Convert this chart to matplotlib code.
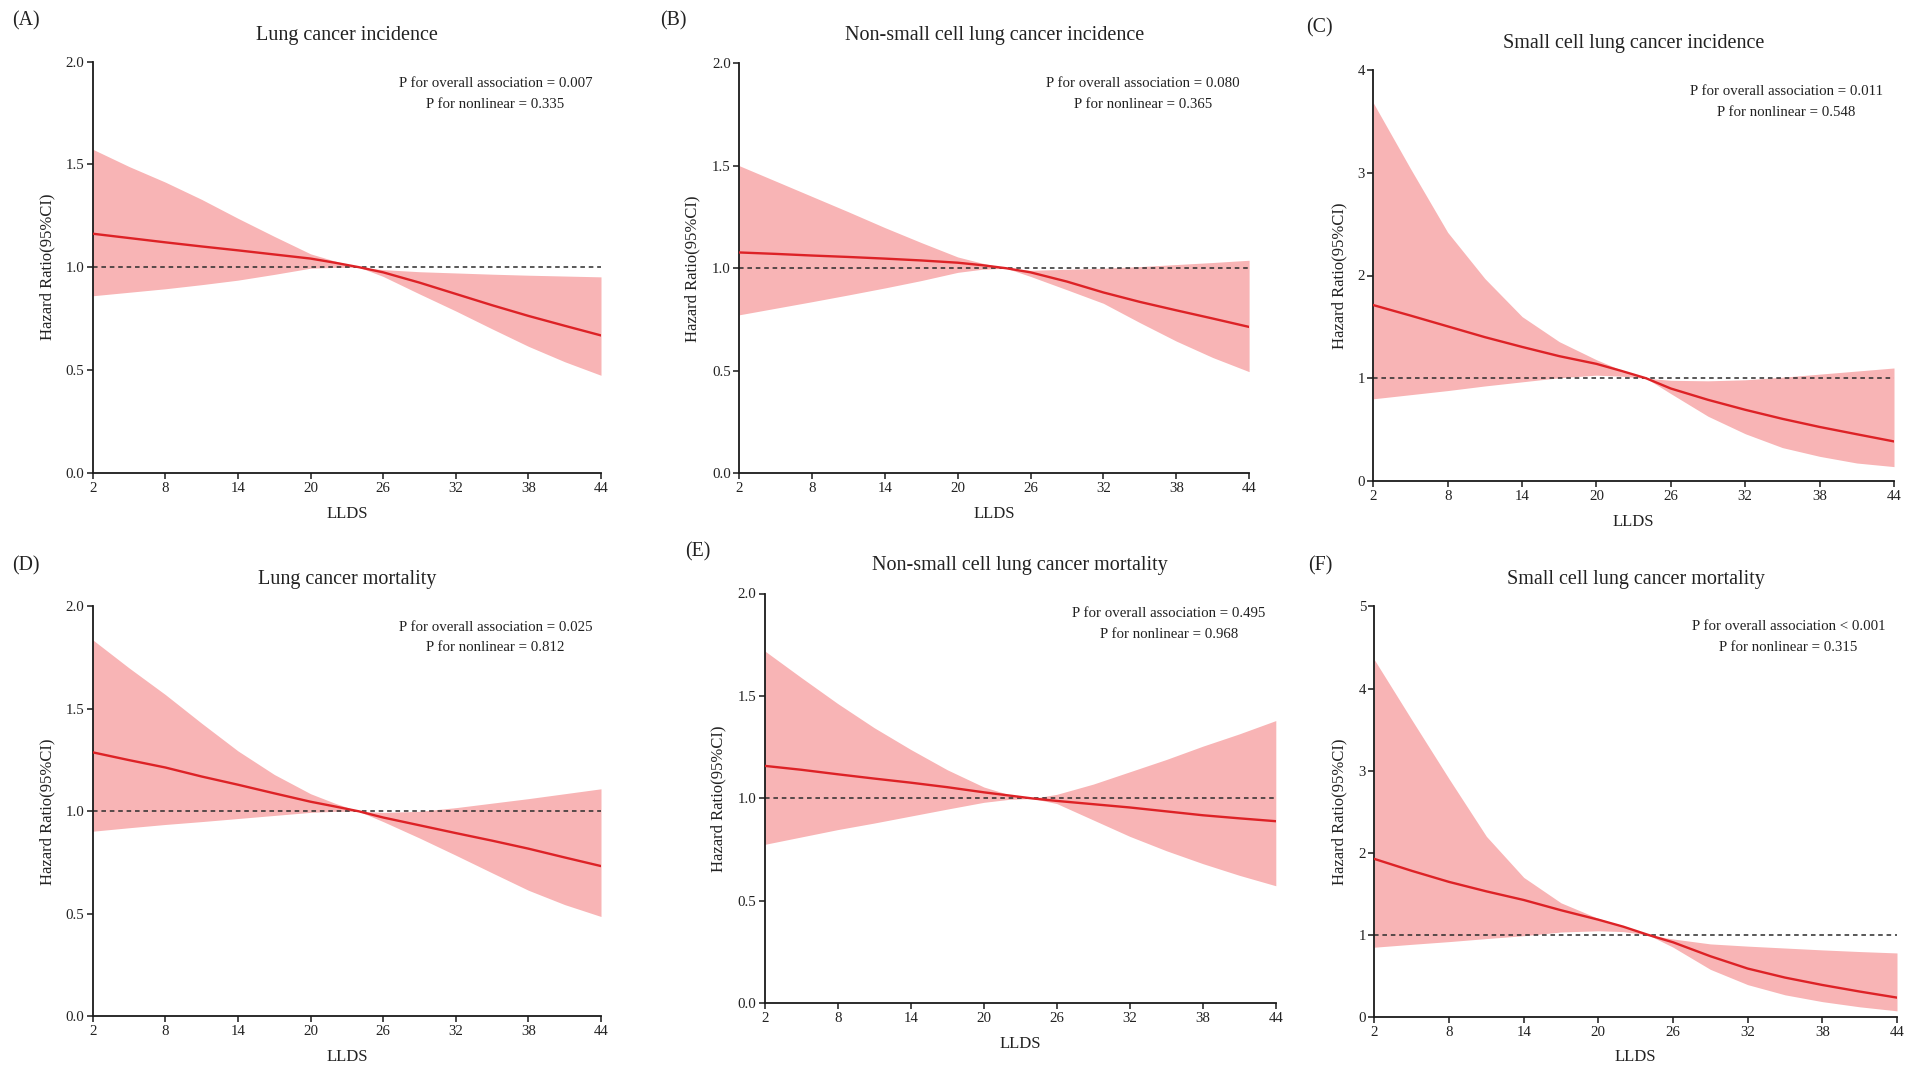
import matplotlib
matplotlib.use("Agg")
import matplotlib.pyplot as plt

plt.rcParams['font.family'] = ['Liberation Serif', 'DejaVu Serif']

# ---------------- data ----------------
lldS = [2, 5, 8, 11, 14, 17, 20, 22, 24, 26, 29, 32, 35, 38, 41, 44]
x_ticks = [2, 8, 14, 20, 26, 32, 38, 44]

panel_labels = ["(A)", "(B)", "(C)", "(D)", "(E)", "(F)"]
titles = ["Lung cancer incidence",
          "Non-small cell lung cancer incidence",
          "Small cell lung cancer incidence",
          "Lung cancer mortality",
          "Non-small cell lung cancer mortality",
          "Small cell lung cancer mortality"]
p_overall = ["P for overall association = 0.007",
             "P for overall association = 0.080",
             "P for overall association = 0.011",
             "P for overall association = 0.025",
             "P for overall association = 0.495",
             "P for overall association < 0.001"]
p_nonlin = ["P for nonlinear = 0.335",
            "P for nonlinear = 0.365",
            "P for nonlinear = 0.548",
            "P for nonlinear = 0.812",
            "P for nonlinear = 0.968",
            "P for nonlinear = 0.315"]

y_ticks_A = [0.0, 0.5, 1.0, 1.5, 2.0]
y_ticks_C = [0, 1, 2, 3, 4]
y_ticks_F = [0, 1, 2, 3, 4, 5]

hr_A = [1.163, 1.142, 1.121, 1.101, 1.082, 1.062, 1.042, 1.022, 1.000, 0.975, 0.925, 0.870, 0.815, 0.763, 0.715, 0.668]
hi_A = [1.574, 1.490, 1.414, 1.330, 1.238, 1.150, 1.065, 1.030, 1.000, 0.988, 0.978, 0.972, 0.966, 0.961, 0.957, 0.953]
lo_A = [0.861, 0.878, 0.895, 0.915, 0.937, 0.965, 0.995, 0.999, 1.000, 0.955, 0.870, 0.787, 0.700, 0.615, 0.540, 0.474]

hr_B = [1.077, 1.070, 1.062, 1.055, 1.047, 1.038, 1.027, 1.015, 1.000, 0.980, 0.935, 0.882, 0.836, 0.795, 0.755, 0.714]
hi_B = [1.500, 1.425, 1.350, 1.275, 1.198, 1.125, 1.055, 1.025, 1.000, 0.990, 0.995, 1.000, 1.008, 1.018, 1.028, 1.039]
lo_B = [0.773, 0.805, 0.837, 0.870, 0.904, 0.940, 0.980, 0.995, 1.000, 0.960, 0.895, 0.829, 0.735, 0.645, 0.565, 0.496]

hr_C = [1.712, 1.610, 1.505, 1.400, 1.305, 1.215, 1.140, 1.072, 1.000, 0.900, 0.790, 0.693, 0.605, 0.526, 0.455, 0.385]
hi_C = [3.68, 3.04, 2.42, 1.97, 1.60, 1.356, 1.18, 1.08, 1.00, 0.98, 0.975, 0.985, 1.01, 1.04, 1.07, 1.10]
lo_C = [0.80, 0.84, 0.88, 0.925, 0.965, 1.005, 1.03, 1.02, 1.00, 0.85, 0.63, 0.46, 0.325, 0.24, 0.175, 0.14]

hr_D = [1.288, 1.250, 1.214, 1.170, 1.130, 1.088, 1.047, 1.024, 1.000, 0.970, 0.932, 0.894, 0.857, 0.818, 0.775, 0.733]
hi_D = [1.837, 1.700, 1.570, 1.430, 1.295, 1.180, 1.086, 1.040, 1.000, 0.995, 1.000, 1.018, 1.040, 1.062, 1.086, 1.110]
lo_D = [0.903, 0.920, 0.936, 0.950, 0.965, 0.980, 0.995, 1.000, 1.000, 0.950, 0.870, 0.786, 0.700, 0.615, 0.545, 0.487]

hr_E = [1.159, 1.140, 1.118, 1.097, 1.077, 1.055, 1.030, 1.015, 1.000, 0.988, 0.972, 0.956, 0.937, 0.918, 0.903, 0.889]
hi_E = [1.72, 1.59, 1.463, 1.345, 1.239, 1.14, 1.056, 1.02, 1.00, 1.02, 1.07, 1.13, 1.19, 1.255, 1.315, 1.38]
lo_E = [0.776, 0.812, 0.848, 0.88, 0.914, 0.948, 0.981, 0.995, 1.00, 0.975, 0.895, 0.815, 0.745, 0.682, 0.625, 0.574]

hr_F = [1.925, 1.78, 1.645, 1.53, 1.425, 1.30, 1.185, 1.10, 1.00, 0.91, 0.74, 0.59, 0.48, 0.39, 0.31, 0.236]
hi_F = [4.35, 3.62, 2.90, 2.20, 1.70, 1.39, 1.20, 1.105, 1.00, 0.95, 0.89, 0.863, 0.84, 0.817, 0.797, 0.78]
lo_F = [0.85, 0.885, 0.918, 0.955, 0.99, 1.035, 1.05, 1.04, 1.00, 0.85, 0.58, 0.394, 0.27, 0.187, 0.124, 0.075]

series = [(hr_A, lo_A, hi_A), (hr_B, lo_B, hi_B), (hr_C, lo_C, hi_C),
          (hr_D, lo_D, hi_D), (hr_E, lo_E, hi_E), (hr_F, lo_F, hi_F)]
yticks_all = [y_ticks_A, y_ticks_A, y_ticks_C, y_ticks_A, y_ticks_A, y_ticks_F]
decimals = [True, True, False, True, True, False]

# ---------------- layout (pixels) ----------------
W, H = 1914, 1074
# left, right, top, bottom of each axes in pixels
boxes = [(92.7, 601.0, 61.7, 472.7),
         (739.2, 1249.1, 63.1, 473.4),
         (1373.3, 1894.0, 70.0, 481.0),
         (92.7, 601.0, 606.4, 1016.3),
         (764.7, 1275.8, 593.5, 1003.4),
         (1374.4, 1897.0, 606.4, 1017.0)]
label_xy = [(12.3, 20.7), (659.8, 20.7), (1306.1, 28.3),
            (12.3, 565.6), (685.3, 551.9), (1307.7, 565.6)]
title_y = [35.5, 35.5, 43.8, 579.9, 565.6, 579.2]
annot = [(495.5, 83.4, 104.1), (1142.9, 83.4, 104.1), (1786.3, 91.4, 112.1),
         (495.5, 627.6, 647.7), (1168.8, 613.9, 634.4), (1788.4, 626.9, 647.7)]
ylab_x = [47.3, 692.3, 1339.0, 47.3, 718.2, 1339.0]
xlab_y = [513.8, 513.8, 522.4, 1057.2, 1043.6, 1057.2]

band_color = '#F8B4B5'
line_color = '#DD2226'

fig = plt.figure(figsize=(W / 100, H / 100), dpi=100)

def fx(px):
    return px / W

def fy(py):
    return 1 - py / H

for i in range(6):
    l, r, t, b = boxes[i]
    ax = fig.add_axes([fx(l), fy(b), (r - l) / W, (b - t) / H])
    hr, lo, hi = series[i]
    ax.fill_between(lldS, lo, hi, color=band_color, lw=0, zorder=1)
    ax.axhline(1.0, color='#2b2b2b', lw=1.1, ls=(0, (3, 2.5)), zorder=2)
    ax.plot(lldS, hr, color=line_color, lw=1.7, zorder=3)

    ax.set_xlim(2, 44)
    yt = yticks_all[i]
    ax.set_ylim(0, yt[-1])
    ax.set_xticks(x_ticks)
    ax.set_yticks(yt)
    if decimals[i]:
        ax.set_yticklabels([f"{v:.1f}" for v in yt])
    else:
        ax.set_yticklabels([f"{v:d}" for v in yt])
    for s in ['top', 'right']:
        ax.spines[s].set_visible(False)
    for s in ['left', 'bottom']:
        ax.spines[s].set_linewidth(1.3)
        ax.spines[s].set_color('#1a1a1a')
    ax.tick_params(axis='both', direction='out', length=4.5, width=1.1,
                   colors='#1a1a1a', labelsize=10.7, pad=2)
    ax.tick_params(axis='y', pad=1.5)
    for lab in ax.get_xticklabels() + ax.get_yticklabels():
        lab.set_color('#222222')

    axw = r - l
    axh = b - t
    ax.set_ylabel("Hazard Ratio(95%CI)", fontsize=12, va='center', color='#222222')
    ax.yaxis.set_label_coords(-(l - ylab_x[i]) / axw, 0.5)
    ax.set_xlabel("LLDS", fontsize=12, va='center', color='#222222')
    ax.xaxis.set_label_coords(0.5, -(xlab_y[i] - b) / axh)

    fig.text(fx((l + r) / 2), fy(title_y[i]), titles[i], fontsize=14.5,
             ha='center', va='center', color='#222222')
    fig.text(fx(label_xy[i][0]), fy(label_xy[i][1]), panel_labels[i], fontsize=14.3,
             ha='left', va='center', color='#222222')
    ax_, y1, y2 = annot[i]
    fig.text(fx(ax_), fy(y1), p_overall[i], fontsize=10.7, ha='center', va='center',
             color='#222222')
    fig.text(fx(ax_), fy(y2), p_nonlin[i], fontsize=10.7, ha='center', va='center',
             color='#222222')

fig.savefig("out.png", dpi=100)
